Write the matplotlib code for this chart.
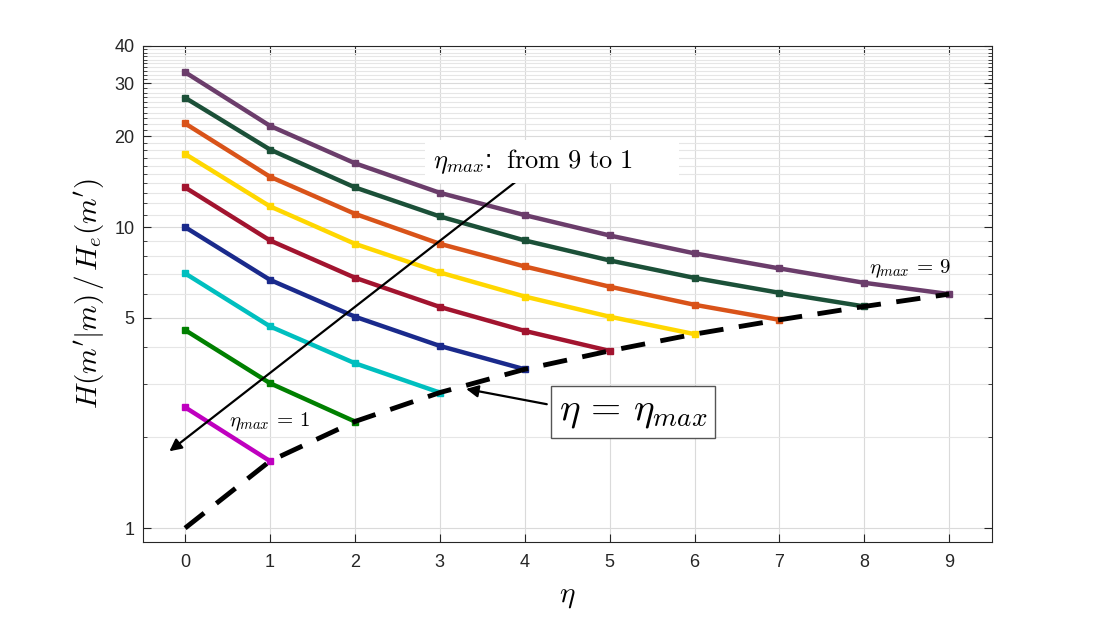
import numpy as np
import matplotlib
matplotlib.use("Agg")
import matplotlib.pyplot as plt
from matplotlib.patches import Rectangle

plt.rcParams['mathtext.fontset'] = 'cm'
plt.rcParams['font.family'] = ['Liberation Sans', 'DejaVu Sans']

# H(m'|m)/H_e(m') for each eta_max, eta = 0..eta_max
curves = {
    1: [2.52, 1.67],
    2: [4.55, 3.03, 2.26],
    3: [7.02, 4.68, 3.53, 2.82],
    4: [10.0, 6.68, 5.04, 4.03, 3.37],
    5: [13.55, 9.03, 6.79, 5.43, 4.52, 3.88],
    6: [17.5, 11.72, 8.80, 7.07, 5.88, 5.04, 4.41],
    7: [22.1, 14.7, 11.07, 8.80, 7.40, 6.34, 5.52, 4.92],
    8: [26.9, 18.1, 13.55, 10.85, 9.03, 7.75, 6.78, 6.05, 5.45],
    9: [32.7, 21.7, 16.3, 13.0, 10.96, 9.38, 8.18, 7.29, 6.53, 5.99],
}
colors = {
    1: '#BF00BF', 2: '#008000', 3: '#00BFBF', 4: '#1A2A8C', 5: '#A2142F',
    6: '#FFD700', 7: '#D95319', 8: '#1B5038', 9: '#6B3D6B',
}
# eta = eta_max line
diag_eta = list(range(10))
diag_vals = [1.0, 1.67, 2.26, 2.82, 3.37, 3.88, 4.41, 4.92, 5.45, 5.99]

yticks_major = [1, 5, 10, 20, 30, 40]
yticks_minor = [2, 3, 4, 6, 7, 8, 9] + [v for v in range(11, 40) if v not in (20, 30)]

fig = plt.figure(figsize=(10.97, 6.2), dpi=100)
ax = fig.add_axes([0.130, 0.126, 0.774, 0.800])

for k in range(1, 10):
    y = curves[k]
    ax.plot(np.arange(len(y)), y, '-s', color=colors[k], lw=3.2, ms=5, zorder=3)

ax.plot(diag_eta, diag_vals, '--', color='black', lw=3.5, dashes=(5, 3.2), zorder=4)

ax.set_yscale('log')
ax.set_xlim(-0.5, 9.5)
ax.set_ylim(0.9, 40)
ax.set_xticks(range(10))
ax.set_yticks(yticks_major)
ax.set_yticklabels([str(v) for v in yticks_major])
ax.set_yticks(yticks_minor, minor=True)
ax.set_yticklabels([], minor=True)

ax.grid(True, which='major', color='#DADADA', lw=0.8)
ax.grid(True, which='minor', axis='y', color='#E6E6E6', lw=0.8)
ax.set_axisbelow(True)

ax.tick_params(which='both', direction='in', top=True, right=True,
               labelsize=13, colors='#262626')
ax.tick_params(which='major', length=6)
ax.tick_params(which='minor', length=3)
ax.tick_params(axis='x', pad=9)
ax.tick_params(axis='y', pad=6)
for s in ax.spines.values():
    s.set_color('#262626')

ax.set_xlabel(r'$\eta$', fontsize=21, labelpad=8)
ax.set_ylabel(r"$H(m'|m)\,/\,H_e(m')$", fontsize=21, labelpad=6)

# arrow: eta_max from 9 to 1
ax.annotate('', xy=(-0.185, 1.80), xytext=(3.93, 14.4),
            arrowprops=dict(arrowstyle='-|>', color='black', lw=1.6,
                            mutation_scale=18, shrinkA=0, shrinkB=0), zorder=5)
ax.add_patch(Rectangle((0.332, 0.724), 0.300, 0.086, transform=ax.transAxes,
                       facecolor='white', edgecolor='none', zorder=6))
ax.text(0.342, 0.767, r'$\eta_{max}$:  $\mathrm{from\ 9\ to\ 1}$', transform=ax.transAxes,
        fontsize=19, va='center', ha='left', zorder=7)

# arrow: eta = eta_max
ax.annotate('', xy=(3.31, 2.90), xytext=(4.26, 2.58),
            arrowprops=dict(arrowstyle='-|>', color='black', lw=1.6,
                            mutation_scale=18, shrinkA=0, shrinkB=0), zorder=5)
ax.text(0.578, 0.262, r'$\eta\,=\,\eta_{max}$', transform=ax.transAxes,
        fontsize=28, va='center', ha='center', zorder=7,
        bbox=dict(boxstyle='square,pad=0.2', facecolor='white', edgecolor='#555555', lw=1))

ax.text(0.52, 2.25, r'$\eta_{max}\,=\,1$', fontsize=15, va='center', ha='left', zorder=7)
ax.text(8.05, 7.25, r'$\eta_{max}\,=\,9$', fontsize=15, va='center', ha='left', zorder=7)

fig.savefig('out.png', dpi=100)
